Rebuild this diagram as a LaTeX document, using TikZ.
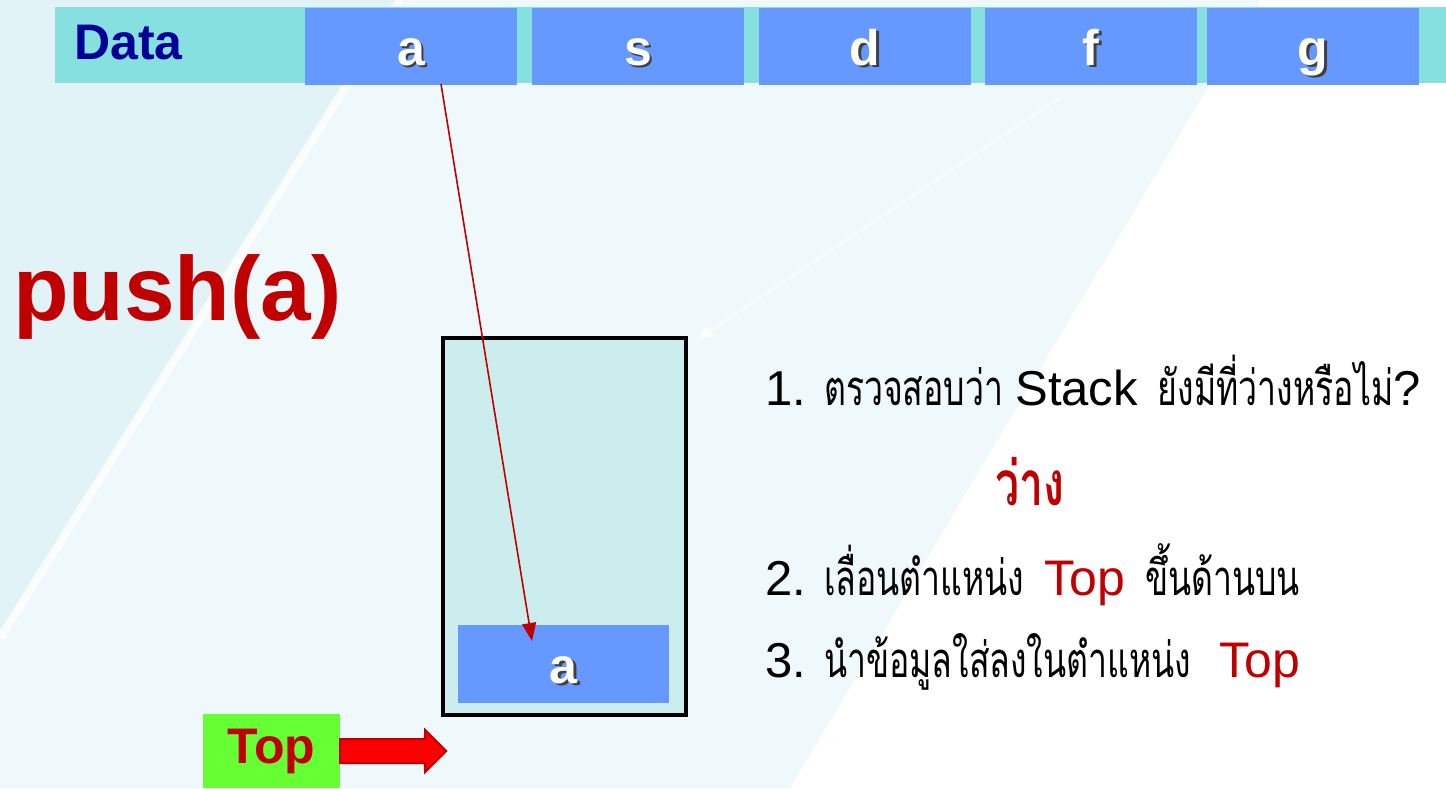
\documentclass[tikz,border=0pt]{standalone}
\usepackage{fontspec}
\setmainfont{Liberation Sans}
\newfontfamily\thaifont[Script=Thai,FakeStretch=0.69]{Loma}
\usetikzlibrary{arrows.meta,shapes.arrows,positioning}
\definecolor{cellblue}{HTML}{6699FF}
\definecolor{barteal}{HTML}{86E0E0}
\definecolor{darkred}{HTML}{C00000}
\definecolor{navy}{HTML}{000099}
\definecolor{stackfill}{HTML}{CCEDED}
\definecolor{topgreen}{HTML}{66FF33}
\definecolor{bgleft}{HTML}{E1F3F7}
\definecolor{bgmid}{HTML}{EFF8FB}
\newcommand{\shtext}[1]{\rlap{\kern2.5pt\raisebox{-2.5pt}{\color{black!75}#1}}#1}

\begin{document}
\begin{tikzpicture}[x=1pt, y=-1pt,
      datacell/.style={fill=cellblue, minimum width=212pt, minimum height=77pt, inner sep=0pt,
        text=white, font=\bfseries\fontsize{50}{56}\selectfont, text height=44pt, text depth=6pt},
      stackbox/.style={draw=black, line width=4pt, fill=stackfill, minimum width=243pt, minimum height=377pt},
      toplabel/.style={fill=topgreen, minimum width=137pt, minimum height=74pt, inner sep=0pt,
        text=darkred, font=\bfseries\fontsize{50}{54}\selectfont},
      toparrow/.style={single arrow, fill=red, draw=darkred, line width=2pt, minimum height=106pt,
        minimum width=42pt, single arrow head extend=9pt, inner sep=11pt},
      stepline/.style={anchor=base west, inner sep=0pt, font=\fontsize{49}{58}\selectfont},
      pusharrow/.style={draw=darkred, line width=1.6pt, -{Triangle[length=18pt, width=14pt]}},
      hintarrow/.style={draw=white, line width=1.5pt, -{Triangle[length=14pt, width=12pt]}}]

      \useasboundingbox (0,0) rectangle (1446,788);

      % Background
      \fill[white] (0,0) rectangle (1446,788);
      \fill[bgmid] (0,0) -- (1260,0) -- (790,788) -- (0,788) -- cycle;
      \fill[bgleft] (0,0) -- (400,0) -- (0,638) -- cycle;
      \draw[white, line width=8pt, opacity=0.8] (400,0) -- (0,638);

      % --- Data row ---
      \fill[barteal] (55,7) rectangle (1446,83);
      \node[anchor=base west, inner sep=0pt, text=navy, font=\bfseries\fontsize{50}{56}\selectfont] (datalbl) at (74,59) {Data};
      \foreach \x/\ch in {411/a, 638/s, 865/d, 1091/f, 1313/g}
        \node[datacell] (cell\ch) at (\x,46) {\shtext{\ch}};

      % --- push(a) ---
      \node[anchor=base west, inner sep=0pt, text=darkred, font=\bfseries\fontsize{91}{94}\selectfont] (pushlbl) at (13,320) {push(a)};

      % --- Stack ---
      \node[stackbox] (stack) at (564.5,526.5) {};
      \node[datacell, minimum width=211pt, minimum height=78pt] (slot) at (563.5,664) {\shtext{a}};

      % --- Top pointer ---
      \node[toplabel] (toplbl) at (271.5,751) {Top};
      \node[toparrow, right=-1pt of toplbl] (toparr) {};

      % Arrows
      \coordinate (src) at (441,84);
      \coordinate (dst) at (532,641);
      \draw[pusharrow] (src) -- (dst);
      \coordinate (hintsrc) at (1061,97);
      \coordinate (hintdst) at (698,339);
      \draw[hintarrow] (hintsrc) -- (hintdst);

      % --- Steps ---
      \node[stepline] (step1) at (765,405) {1.\hspace{18pt}{\thaifont ตรวจสอบว่า}\hspace{12pt}Stack\hspace{20pt}{\thaifont ยังมีที่ว่างหรือไม่}?};
      \node[anchor=base, inner sep=0pt, text=darkred, font=\thaifont\bfseries\fontsize{62}{70}\selectfont] (emptyword) at (1030,505) {ว่าง};
      \node[stepline] (step2) at (765,595) {2.\hspace{18pt}{\thaifont เลื่อนตำแหน่ง}\hspace{20pt}{\color{darkred}\fontsize{50}{58}\selectfont Top}\hspace{20pt}{\thaifont ขึ้นด้านบน}};
      \node[stepline] (step3) at (765,677) {3.\hspace{18pt}{\thaifont นำข้อมูลใส่ลงในตำแหน่ง}\hspace{28pt}{\color{darkred}\fontsize{50}{58}\selectfont Top}};

    \end{tikzpicture}
\end{document}
